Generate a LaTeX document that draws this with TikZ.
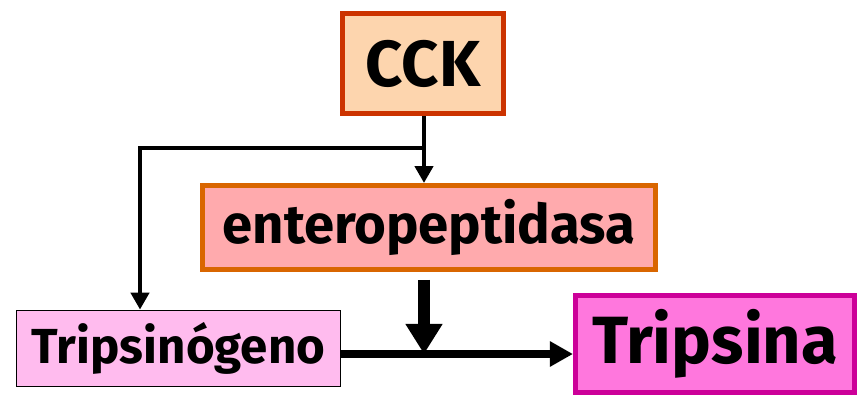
\documentclass[tikz,border=0pt]{standalone}
\usepackage{fontspec}
\setmainfont{Fira Sans}
\usetikzlibrary{arrows.meta,positioning,calc}
\definecolor{cckline}{HTML}{CC3300}
\definecolor{cckfill}{HTML}{FDD5AE}
\definecolor{enzline}{HTML}{D96600}
\definecolor{enzfill}{HTML}{FFAAAD}
\definecolor{tgnfill}{HTML}{FFBBEE}
\definecolor{trpline}{HTML}{CC0099}
\definecolor{trpfill}{HTML}{FF77DD}

\begin{document}
\begin{tikzpicture}[
  x=0.01cm, y=-0.01cm,
  font=\bfseries,
  box/.style={inner sep=0pt, align=center},
  link/.style={line width=1.4pt, -{Triangle[length=1.7mm,width=1.8mm]}},
  bigarrow/.style={line width=3.4pt, -{Triangle[length=3mm,width=3.5mm]}},
]
\useasboundingbox (0,0) rectangle (857,396);

% ---- boxes ----
\node[box, draw=cckline, fill=cckfill, line width=1.4pt,
      minimum width=1.61cm, minimum height=1.0cm,
      font=\bfseries\fontsize{18.5}{21}\selectfont] (cck) at (423,63.5) {CCK};
\node[box, draw=enzline, fill=enzfill, line width=1.4pt,
      minimum width=4.53cm, minimum height=0.84cm,
      font=\bfseries\fontsize{15.5}{18}\selectfont] (enz) at (429,227.5) {enteropeptidasa};
\node[box, draw=black, fill=tgnfill, line width=0.5pt,
      minimum width=3.24cm, minimum height=0.76cm,
      font=\bfseries\fontsize{14}{17}\selectfont] (tgn) at (178.5,348.5) {Tripsinógeno};
\node[box, draw=trpline, fill=trpfill, line width=1.4pt,
      minimum width=2.79cm, minimum height=0.97cm,
      font=\bfseries\fontsize{19}{22}\selectfont] (trp) at (715,344) {Tripsina};

% ---- junction points ----
\coordinate (fork) at (140,148);
\coordinate (join) at (424,354);

% ---- CCK -> enteropeptidasa, CCK -> Tripsinogeno ----
\draw[link] (cck.south -| join) -- (enz.north -| join);
\draw[link] (fork -| join) -- (fork) -- (fork |- tgn.north);

% ---- enzyme acts on the conversion ----
\draw[bigarrow] (enz.south -| join) ++(0,8) -- (join);
\draw[line width=2.4pt, -{Triangle[length=2.3mm,width=2.4mm]}]
  (tgn.east |- join) -- (trp.west |- join);

\end{tikzpicture}
\end{document}
